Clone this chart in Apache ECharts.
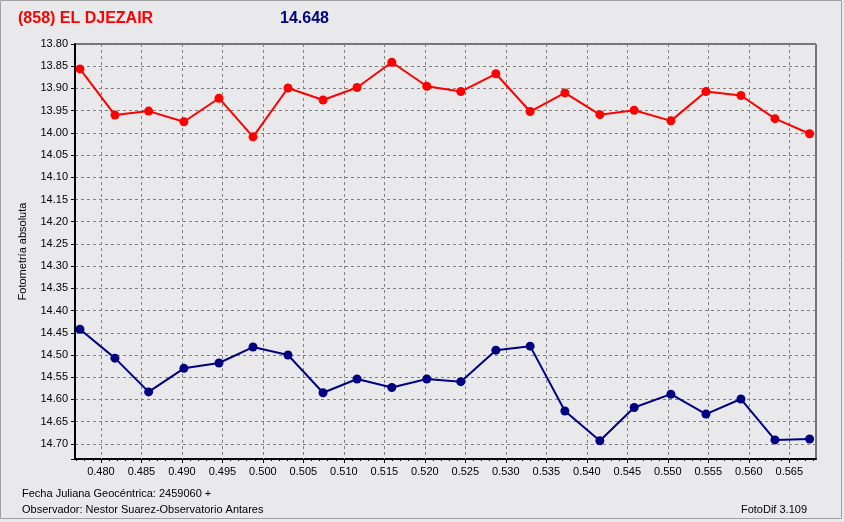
<!DOCTYPE html>
<html>
<head>
<meta charset="utf-8">
<script src="https://cdn.jsdelivr.net/npm/echarts@6/dist/echarts.min.js"></script>
<style>
html,body{margin:0;padding:0;background:#e9e9ec;}
#c{width:844px;height:522px;}
</style>
</head>
<body>
<div id="c"></div>
<script>
const titleText = "(858) EL DJEZAIR";
const magText = "14.648";
const yAxisName = "Fotometría absoluta";
const footLine1 = "Fecha Juliana Geocéntrica: 2459060 +";
const footLine2 = "Observador: Nestor Suarez-Observatorio Antares";
const footRight = "FotoDif 3.109";

const jd = [0.47741,0.48173,0.48589,0.49025,0.49458,0.49878,0.50310,0.50743,0.51163,0.51592,0.52024,
            0.52444,0.52877,0.53300,0.53729,0.54161,0.54585,0.55038,0.55471,0.55903,0.56323,0.56751];
const redMag = [13.856,13.960,13.951,13.975,13.922,14.009,13.899,13.926,13.898,13.841,13.895,
                13.907,13.867,13.952,13.910,13.959,13.949,13.973,13.907,13.916,13.968,14.002];
const blueMag = [14.442,14.507,14.583,14.530,14.518,14.482,14.500,14.585,14.554,14.573,14.554,
                 14.560,14.489,14.480,14.626,14.693,14.618,14.588,14.633,14.599,14.691,14.689];

const xTicks = [0.480,0.485,0.490,0.495,0.500,0.505,0.510,0.515,0.520,0.525,0.530,0.535,0.540,0.545,0.550,0.555,0.560,0.565];
const xMinorTicks = [0.477,0.478,0.479,0.480,0.481,0.482,0.483,0.484,0.485,0.486,0.487,0.488,0.489,0.490,0.491,0.492,0.493,0.494,0.495,
  0.496,0.497,0.498,0.499,0.500,0.501,0.502,0.503,0.504,0.505,0.506,0.507,0.508,0.509,0.510,0.511,0.512,0.513,0.514,0.515,
  0.516,0.517,0.518,0.519,0.520,0.521,0.522,0.523,0.524,0.525,0.526,0.527,0.528,0.529,0.530,0.531,0.532,0.533,0.534,0.535,
  0.536,0.537,0.538,0.539,0.540,0.541,0.542,0.543,0.544,0.545,0.546,0.547,0.548,0.549,0.550,0.551,0.552,0.553,0.554,0.555,
  0.556,0.557,0.558,0.559,0.560,0.561,0.562,0.563,0.564,0.565,0.566,0.567,0.568];

const xMin = 0.4768, xMax = 0.5683;
const yMin = 13.80, yMax = 14.734, yStep = 0.05;

const chart = echarts.init(document.getElementById('c'));
const fontLab = 'Liberation Sans, Arial, sans-serif';
function onStep(v, step){ const k = v/step; return Math.abs(k-Math.round(k))<1e-6; }

chart.setOption({
  backgroundColor: '#e9e9ec',
  animation: false,
  grid: {left:75, top:44, right:28, bottom:63, show:true, borderColor:'#000', borderWidth:1, backgroundColor:'transparent'},
  xAxis: [{
    type:'value', min:xMin, max:xMax, position:'bottom',
    axisLine:{show:true, onZero:false, lineStyle:{color:'#000', width:2}},
    axisTick:{show:true, length:4, lineStyle:{color:'#000'}, customValues:xTicks},
    axisLabel:{color:'#000', fontFamily:fontLab, fontSize:11, margin:7, customValues:xTicks,
      formatter: v => v.toFixed(3)},
    splitLine:{show:false}
  },{
    type:'value', min:xMin, max:xMax, position:'bottom',
    axisLine:{show:false, onZero:false},
    axisTick:{show:true, length:2, lineStyle:{color:'#000'}, customValues:xMinorTicks},
    axisLabel:{show:false},
    splitLine:{show:false}
  }],
  yAxis: {
    type:'value', inverse:true, min:yMin, max:yMax, interval:yStep,
    name: yAxisName, nameLocation:'middle', nameGap:47, nameRotate:90,
    nameTextStyle:{color:'#000', fontFamily:fontLab, fontSize:11},
    axisLine:{show:true, onZero:false, lineStyle:{color:'#000', width:2}},
    axisTick:{show:true, length:4, lineStyle:{color:'#000'}},
    axisLabel:{color:'#000', fontFamily:fontLab, fontSize:11, margin:7,
      formatter: v => onStep(v, yStep) ? v.toFixed(2) : ''},
    splitLine:{show:true, lineStyle:{color:'#808080', type:[3,3], width:1}}
  },
  series: [
    {type:'custom', xAxisIndex:0, silent:true, z:1, clip:false,
     data: xTicks.map(v => [v, yMin]),
     encode:{x:0, y:1},
     renderItem: function(params, api){
       const top = api.coord([api.value(0), yMin]);
       const bot = api.coord([api.value(0), yMax]);
       const X = Math.round(top[0]) + 0.5;
       return {type:'line', silent:true,
         shape:{x1:X, y1:Math.round(top[1]), x2:X, y2:Math.round(bot[1])},
         style:{stroke:'#808080', lineDash:[3,3], lineWidth:1}};
     }},
    {type:'line', xAxisIndex:0, data: jd.map((x,i)=>[x, redMag[i]]), color:'#ff0000', z:3,
     lineStyle:{width:2, color:'#ff0000'}, symbol:'circle', symbolSize:9, showSymbol:true,
     itemStyle:{color:'#ff0000'}},
    {type:'line', xAxisIndex:0, data: jd.map((x,i)=>[x, blueMag[i]]), color:'#000080', z:3,
     lineStyle:{width:2, color:'#000080'}, symbol:'circle', symbolSize:9, showSymbol:true,
     itemStyle:{color:'#000080'}}
  ],
  graphic: [
    {type:'rect', shape:{x:0.5, y:0.5, width:841, height:518}, style:{fill:'none', stroke:'#a0a0a0', lineWidth:1}, silent:true},
    {type:'text', left:18, top:11, style:{text:titleText, fill:'#ff0000', font:'bold 16px Liberation Sans, Arial, sans-serif'}},
    {type:'text', left:280, top:11, style:{text:magText, fill:'#000080', font:'bold 16px Liberation Sans, Arial, sans-serif'}},
    {type:'text', left:22, top:488, style:{text:footLine1, fill:'#000', font:'11px Liberation Sans, Arial, sans-serif'}},
    {type:'text', left:22, top:504, style:{text:footLine2, fill:'#000', font:'11px Liberation Sans, Arial, sans-serif'}},
    {type:'text', right:37, top:504, style:{text:footRight, fill:'#000', font:'11px Liberation Sans, Arial, sans-serif'}}
  ]
});
</script>
</body>
</html>
